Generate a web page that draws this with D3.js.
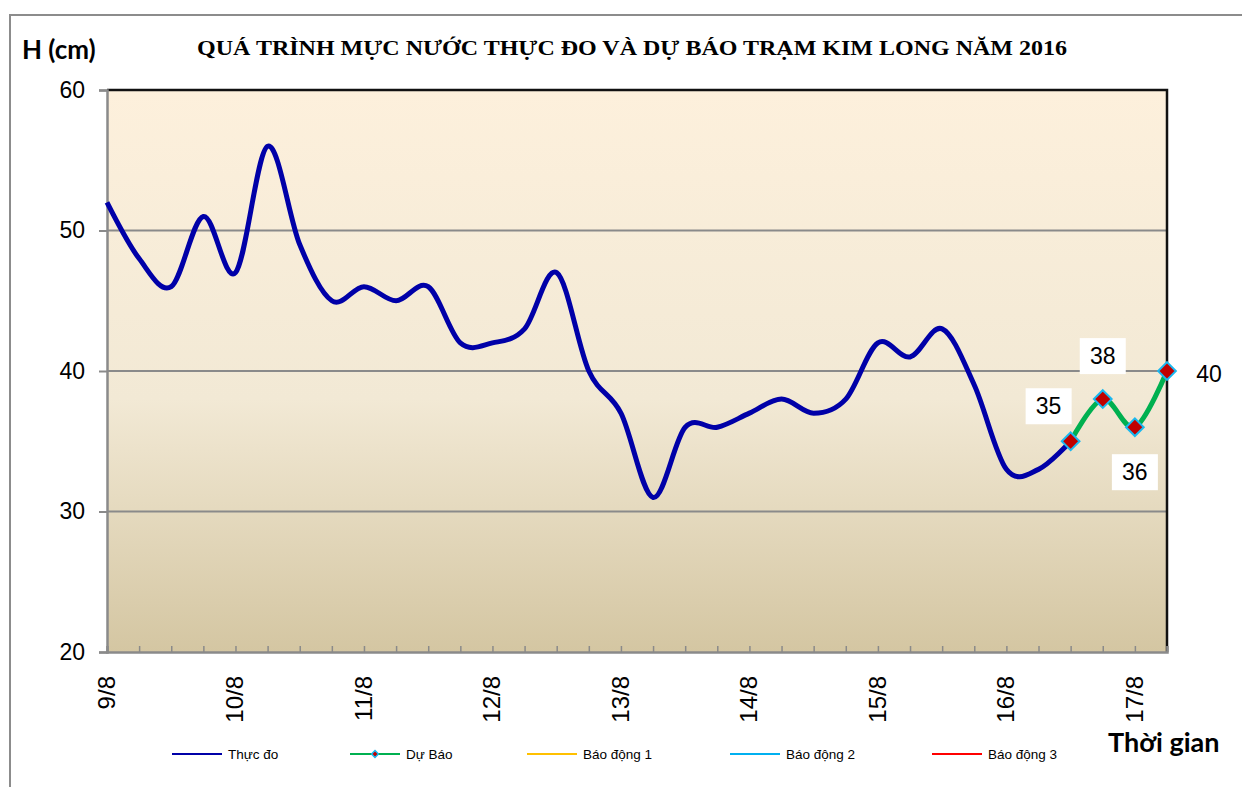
<!DOCTYPE html>
<html>
<head>
<meta charset="utf-8">
<script src="https://cdn.jsdelivr.net/npm/d3@7"></script>
<style>
  body { margin: 0; background: #ffffff; }
</style>
</head>
<body>
<div id="chart"></div>
<script>
// water level (cm), one value every 6 hours, 9/8 -> 17/8
let observed = [52, 48, 46, 51, 47, 56, 49, 45, 46, 45, 46, 42, 42, 43, 47, 40, 37, 31,
                36, 36, 37, 38, 37, 38, 42, 41, 43, 39, 33, 33, 35];
let forecast = [35, 38, 36, 40];
let forecastStart = 30;
let dayLabels = ["9/8", "10/8", "11/8", "12/8", "13/8", "14/8", "15/8", "16/8", "17/8"];
let yTicks = [20, 30, 40, 50, 60];
let legendNames = ["Thực đo", "Dự Báo", "Báo động 1", "Báo động 2", "Báo động 3"];
let legendColors = ["#0000a8", "#00b050", "#ffc000", "#00b0f0", "#ff0000"];

let svg = d3.select("#chart").append("svg")
    .attr("width", 1242)
    .attr("height", 787);

let plotLeft = 107, plotRight = 1167, plotTop = 90, plotBottom = 652;
let nPoints = forecastStart + forecast.length;

let x = d3.scaleLinear().domain([0, nPoints - 1]).range([plotLeft, plotRight]);
let y = d3.scaleLinear().domain([20, 60]).range([plotBottom, plotTop]);

// outer frame
svg.append("rect")
    .attr("x", 10).attr("y", 15)
    .attr("width", 1250).attr("height", 800)
    .attr("fill", "none")
    .attr("stroke", "#8c8c8c")
    .attr("stroke-width", 2);

// plot background gradient
let defs = svg.append("defs");
let grad = defs.append("linearGradient")
    .attr("id", "bg")
    .attr("x1", 0).attr("y1", 0).attr("x2", 0).attr("y2", 1);
grad.append("stop").attr("offset", "0%").attr("stop-color", "#fdf0dc");
grad.append("stop").attr("offset", "55%").attr("stop-color", "#f2e9d5");
grad.append("stop").attr("offset", "100%").attr("stop-color", "#d4c6a2");

svg.append("rect")
    .attr("x", plotLeft).attr("y", plotTop)
    .attr("width", plotRight - plotLeft).attr("height", plotBottom - plotTop)
    .attr("fill", "url(#bg)");

// horizontal grid lines
svg.selectAll(".grid")
    .data(yTicks.filter(t => t > 20 && t < 60))
    .enter()
    .append("line")
    .attr("x1", plotLeft).attr("x2", plotRight)
    .attr("y1", d => y(d)).attr("y2", d => y(d))
    .attr("stroke", "#8a8a8a")
    .attr("stroke-width", 2);

// top and right border
svg.append("path")
    .attr("d", `M${plotLeft},${plotTop}H${plotRight}V${plotBottom}`)
    .attr("fill", "none")
    .attr("stroke", "#111")
    .attr("stroke-width", 2.5);

// y axis
let yAxis = d3.axisLeft(y)
    .tickValues(yTicks)
    .tickSize(8)
    .tickPadding(14);

let gy = svg.append("g")
    .attr("transform", `translate(${plotLeft},0)`)
    .call(yAxis);
gy.select(".domain").attr("stroke", "#8a8a8a").attr("stroke-width", 2.5);
gy.selectAll(".tick line").attr("stroke", "#8a8a8a").attr("stroke-width", 2);
gy.selectAll(".tick text")
    .attr("font-family", "Liberation Sans, Arial, sans-serif")
    .attr("font-size", 23)
    .attr("fill", "#000");

// x axis: small ticks every 6 hours, pointing inside
let gx = svg.append("g")
    .attr("transform", `translate(0,${plotBottom})`)
    .call(d3.axisBottom(x).tickValues(d3.range(nPoints)).tickSize(-6).tickFormat(""));
gx.select(".domain").attr("stroke", "#8a8a8a").attr("stroke-width", 2.5);
gx.selectAll(".tick line").attr("stroke", "#8a8a8a").attr("stroke-width", 1.5);

// day labels, rotated
svg.selectAll(".daylabel")
    .data(dayLabels)
    .enter()
    .append("text")
    .attr("transform", (d, i) => `translate(${x(i * 4) + 8},676) rotate(-90)`)
    .attr("text-anchor", "end")
    .attr("font-family", "Liberation Sans, Arial, sans-serif")
    .attr("font-size", 24)
    .text(d => d);

// lines
let line = d3.line()
    .x(d => x(d.i))
    .y(d => y(d.v))
    .curve(d3.curveCardinal.tension(0));

let obsData = observed.map((v, i) => ({i: i, v: v}));
let fcData = forecast.map((v, i) => ({i: forecastStart + i, v: v}));

svg.append("path")
    .datum(obsData)
    .attr("d", line)
    .attr("fill", "none")
    .attr("stroke", "#0000a8")
    .attr("stroke-width", 5)
    .attr("stroke-linejoin", "round");

svg.append("path")
    .datum(fcData)
    .attr("d", line)
    .attr("fill", "none")
    .attr("stroke", "#00b050")
    .attr("stroke-width", 5);

// diamond markers
let diamond = d3.symbol().type(d3.symbolDiamond2).size(200);
svg.selectAll(".marker")
    .data(fcData)
    .enter()
    .append("path")
    .attr("d", diamond)
    .attr("transform", d => `translate(${x(d.i)},${y(d.v)})`)
    .attr("fill", "#c00000")
    .attr("stroke", "#1ab8f0")
    .attr("stroke-width", 2);

// data labels (dx, dy = offset of label centre from point)
let labelOffsets = [[-22, -35], [0, -43], [0, 45], [42, 3]];
let labelBox = [true, true, true, false];
fcData.forEach((d, k) => {
    let cx = x(d.i) + labelOffsets[k][0];
    let cy = y(d.v) + labelOffsets[k][1];
    if (labelBox[k]) {
        svg.append("rect")
            .attr("x", cx - 23).attr("y", cy - 18)
            .attr("width", 46).attr("height", 36)
            .attr("fill", "#fff");
    }
    svg.append("text")
        .attr("x", cx).attr("y", cy + 8)
        .attr("text-anchor", "middle")
        .attr("font-family", "Liberation Sans, Arial, sans-serif")
        .attr("font-size", 23)
        .text(d.v);
});

// title and axis names
svg.append("text")
    .attr("x", 632).attr("y", 55)
    .attr("text-anchor", "middle")
    .attr("font-family", "Liberation Serif, Times New Roman, serif")
    .attr("font-weight", "bold")
    .attr("font-size", 20)
    .attr("textLength", 870)
    .attr("lengthAdjust", "spacingAndGlyphs")
    .text("QUÁ TRÌNH MỰC NƯỚC THỰC ĐO VÀ DỰ BÁO TRẠM KIM LONG NĂM 2016");

svg.append("text")
    .attr("x", 22).attr("y", 59)
    .attr("font-family", "Lato, Open Sans, sans-serif")
    .attr("font-weight", "bold")
    .attr("font-size", 26)
    .text("H (cm)");

svg.append("text")
    .attr("x", 1108).attr("y", 752)
    .attr("font-family", "Lato, Open Sans, sans-serif")
    .attr("font-weight", "bold")
    .attr("font-size", 27)
    .text("Thời gian");

// legend
let legendX = [172, 350, 527, 730, 932];
let legend = svg.selectAll(".legend")
    .data(legendNames)
    .enter()
    .append("g")
    .attr("transform", (d, i) => `translate(${legendX[i]},754)`);

legend.append("line")
    .attr("x1", 0).attr("x2", 50)
    .attr("stroke", (d, i) => legendColors[i])
    .attr("stroke-width", 2);

legend.filter((d, i) => i == 1)
    .append("path")
    .attr("d", d3.symbol().type(d3.symbolDiamond2).size(30))
    .attr("transform", "translate(25,0)")
    .attr("fill", "#c00000")
    .attr("stroke", "#1ab8f0")
    .attr("stroke-width", 1.5);

legend.append("text")
    .attr("x", 56).attr("y", 5)
    .attr("font-family", "Liberation Sans, Arial, sans-serif")
    .attr("font-size", 13.5)
    .text(d => d);
</script>
</body>
</html>
